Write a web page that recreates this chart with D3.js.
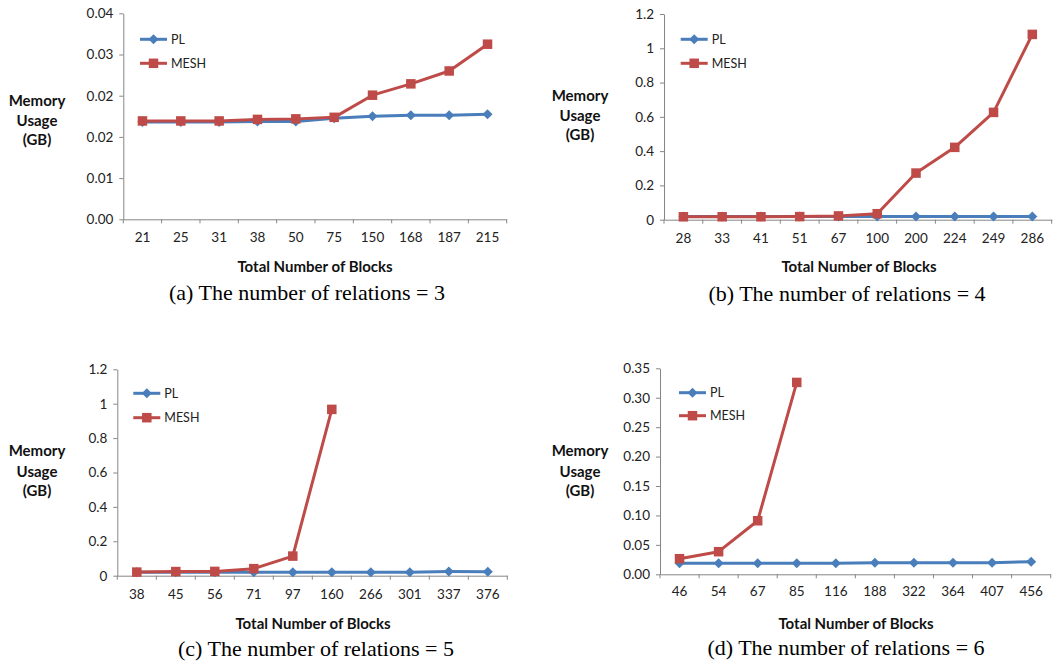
<!DOCTYPE html>
<html>
<head>
<meta charset="utf-8">
<script src="https://cdn.jsdelivr.net/npm/d3@7/dist/d3.min.js"></script>
<style>
  body { margin: 0; background: #fff; }
  svg { display: block; }
</style>
</head>
<body>
<svg id="chart" width="1059" height="662"></svg>
<script>
// ---------- data ----------
const catsA = ["21","25","31","38","50","75","150","168","187","215"];
const plA   = [0.0189,0.0189,0.0189,0.0190,0.0190,0.0196,0.0200,0.0202,0.0202,0.0204];
const meshA = [0.0191,0.0191,0.0191,0.0194,0.0195,0.0198,0.0241,0.0263,0.0288,0.0340];
const ticksA = [0,0.008,0.016,0.024,0.032,0.04];

const catsB = ["28","33","41","51","67","100","200","224","249","286"];
const plB   = [0.018,0.018,0.018,0.018,0.018,0.018,0.018,0.018,0.018,0.018];
const meshB = [0.017,0.017,0.017,0.018,0.022,0.035,0.272,0.422,0.626,1.081];
const ticksB = [0,0.2,0.4,0.6,0.8,1,1.2];

const catsC = ["38","45","56","71","97","160","266","301","337","376"];
const plC   = [0.020,0.020,0.020,0.020,0.020,0.020,0.020,0.020,0.024,0.023];
const meshC = [0.021,0.024,0.025,0.041,0.114,0.967,null,null,null,null];
const ticksC = [0,0.2,0.4,0.6,0.8,1,1.2];

const catsD = ["46","54","67","85","116","188","322","364","407","456"];
const plD   = [0.0187,0.0187,0.0187,0.0187,0.0187,0.0197,0.0197,0.0197,0.0197,0.0214];
const meshD = [0.0265,0.0384,0.091,0.326,null,null,null,null,null,null];
const ticksD = [0,0.05,0.10,0.15,0.20,0.25,0.30,0.35];

const seriesNames = ["PL","MESH"];
const captions = ["(a) The number of relations = 3","(b) The number of relations = 4",
                  "(c) The number of relations = 5","(d) The number of relations = 6"];
const xTitle = "Total Number of Blocks";
const yTitle = ["Memory","Usage","(GB)"];

// ---------- layout ----------
const BLUE = "#4a7ebb", RED = "#be4b48";
const panels = [
  {cats:catsA, pl:plA, mesh:meshA, ticks:ticksA, fmt:d3.format(".2f"),
   x0:123.3, x1:506.7, yTop:13.3, yBot:219.3, ylx:37, yly:[100,120,139],
   xly:237, xtx:315, xty:266, capx:307, capy:292, lgx:140, lgy:[39.3,63.3], cap:captions[0]},
  {cats:catsB, pl:plB, mesh:meshB, ticks:ticksB, fmt:d=>String(+d.toFixed(1)),
   x0:664, x1:1051.7, yTop:14, yBot:219.7, ylx:580, yly:[95,115,134],
   xly:238, xtx:859, xty:266, capx:847, capy:293, lgx:680.7, lgy:[39.3,63.3], cap:captions[1]},
  {cats:catsC, pl:plC, mesh:meshC, ticks:ticksC, fmt:d=>String(+d.toFixed(1)),
   x0:117.3, x1:507.3, yTop:369.3, yBot:575.7, ylx:37, yly:[450,471,490],
   xly:594, xtx:313, xty:623, capx:316, capy:648, lgx:133.3, lgy:[393.3,417.7], cap:captions[2]},
  {cats:catsD, pl:plD, mesh:meshD, ticks:ticksD, fmt:d3.format(".2f"),
   x0:660, x1:1050.7, yTop:368.3, yBot:574.3, ylx:580, yly:[450,471,490],
   xly:591, xtx:856, xty:623, capx:846, capy:647, lgx:679, lgy:[392.7,415.7], cap:captions[3]}
];

const svg = d3.select("#chart");
const SANS = "Lato, 'Open Sans', sans-serif";
const AXIS = "#868686";

panels.forEach(p => {
  const g = svg.append("g");
  const x = d3.scaleBand().domain(p.cats).range([p.x0, p.x1]);
  const y = d3.scaleLinear().domain([0, p.ticks[p.ticks.length-1]]).range([p.yBot, p.yTop]);

  // y axis
  const ya = g.append("g").attr("transform", `translate(${p.x0},0)`)
    .call(d3.axisLeft(y).tickValues(p.ticks).tickFormat(p.fmt).tickSize(4).tickSizeOuter(0));
  ya.select(".domain").attr("stroke", AXIS);
  ya.selectAll(".tick line").attr("stroke", AXIS);
  ya.selectAll("text").attr("font-family", SANS).attr("font-size", 13.5).attr("fill", "#222").attr("x", -10);

  // x axis
  const xa = g.append("g").attr("transform", `translate(0,${p.yBot})`)
    .call(d3.axisBottom(x).tickSize(0).tickSizeOuter(0));
  xa.select(".domain").attr("stroke", AXIS);
  xa.selectAll("text").attr("font-family", SANS).attr("font-size", 13.5).attr("fill", "#222")
    .attr("y", 0).attr("dy", null).attr("dominant-baseline", "central")
    .attr("transform", `translate(0,${p.xly - p.yBot})`);
  // tick marks at band boundaries
  const bounds = p.cats.map(c => x(c)).concat([p.x1]);
  g.selectAll(".xt").data(bounds).join("line")
    .attr("x1", d=>d).attr("x2", d=>d).attr("y1", p.yBot).attr("y2", p.yBot+4)
    .attr("stroke", AXIS);

  const cx = c => x(c) + x.bandwidth()/2;

  // lines
  const line = d3.line().defined(d => d.v != null).x(d => cx(d.c)).y(d => y(d.v));
  const plData = p.cats.map((c,i)=>({c, v:p.pl[i]}));
  const meshData = p.cats.map((c,i)=>({c, v:p.mesh[i]}));
  g.append("path").datum(plData).attr("d", line).attr("fill","none")
    .attr("stroke", BLUE).attr("stroke-width", 3).attr("stroke-linejoin","round");
  g.selectAll(".dpl").data(plData.filter(d=>d.v!=null)).join("path")
    .attr("d", d3.symbol(d3.symbolDiamond2, 64)())
    .attr("transform", d=>`translate(${cx(d.c)},${y(d.v)})`)
    .attr("fill", BLUE);
  g.append("path").datum(meshData).attr("d", line).attr("fill","none")
    .attr("stroke", RED).attr("stroke-width", 3).attr("stroke-linejoin","round");
  g.selectAll(".dmesh").data(meshData.filter(d=>d.v!=null)).join("rect")
    .attr("x", d=>cx(d.c)-4.75).attr("y", d=>y(d.v)-4.75)
    .attr("width", 9.5).attr("height", 9.5).attr("fill", RED);

  // legend
  [BLUE, RED].forEach((col, i) => {
    const ly = p.lgy[i];
    g.append("line").attr("x1", p.lgx).attr("x2", p.lgx+27).attr("y1", ly).attr("y2", ly)
      .attr("stroke", col).attr("stroke-width", 3);
    if (i === 0) {
      g.append("path").attr("d", d3.symbol(d3.symbolDiamond2, 64)())
        .attr("transform", `translate(${p.lgx+13.5},${ly})`).attr("fill", col);
    } else {
      g.append("rect").attr("x", p.lgx+13.5-4.75).attr("y", ly-4.75)
        .attr("width", 9.5).attr("height", 9.5).attr("fill", col);
    }
    g.append("text").attr("x", p.lgx+31).attr("y", ly).attr("dominant-baseline","central")
      .attr("font-family", SANS).attr("font-size", 12.5).attr("fill", "#222").text(seriesNames[i]);
  });

  // y title
  yTitle.forEach((t, i) => {
    g.append("text").attr("x", p.ylx).attr("y", p.yly[i]).attr("text-anchor","middle")
      .attr("dominant-baseline","central").attr("font-family", SANS).attr("font-weight","bold")
      .attr("font-size", 15).attr("fill","#111").text(t);
  });
  // x title
  g.append("text").attr("x", p.xtx).attr("y", p.xty).attr("text-anchor","middle")
    .attr("dominant-baseline","central").attr("font-family", SANS).attr("font-weight","bold")
    .attr("font-size", 15).attr("fill","#111").text(xTitle);
  // caption
  g.append("text").attr("x", p.capx).attr("y", p.capy).attr("text-anchor","middle")
    .attr("dominant-baseline","central").attr("font-family", "'Liberation Serif', 'Times New Roman', serif")
    .attr("font-size", 22).attr("fill","#000").text(p.cap);
});
</script>
</body>
</html>
